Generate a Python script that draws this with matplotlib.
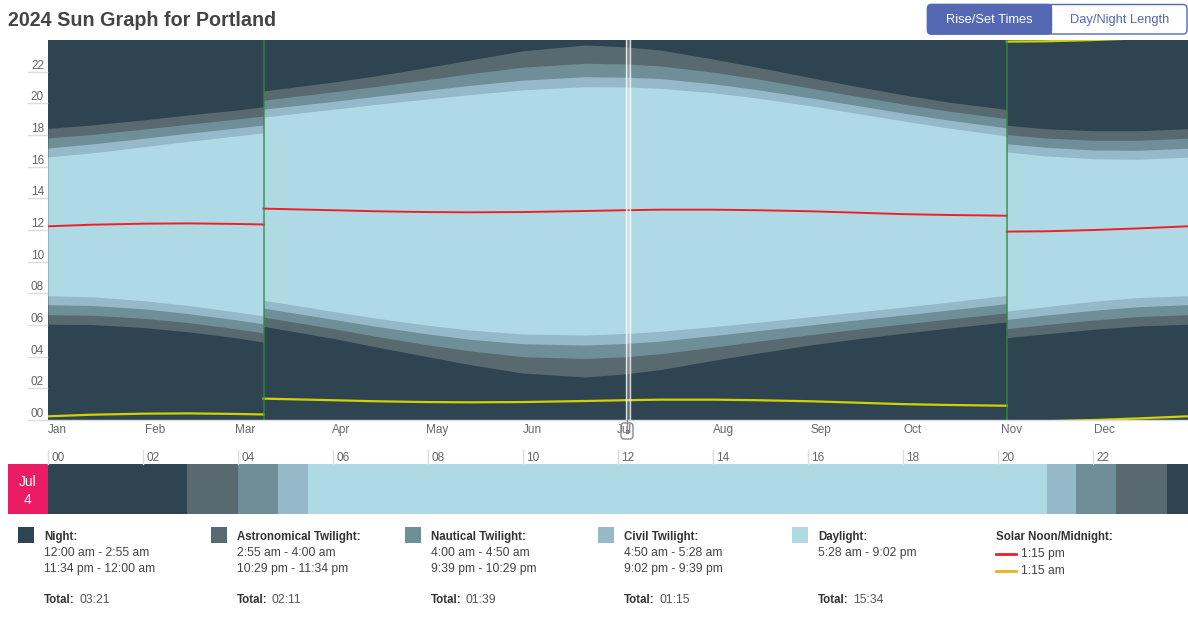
import matplotlib
matplotlib.use('Agg')
import matplotlib.pyplot as plt
from matplotlib.patches import Rectangle, FancyBboxPatch

plt.rcParams['font.family'] = ['Liberation Sans', 'DejaVu Sans']

W, H = 1188, 624

# day of year (Jan 1 = 0). a repeated day marks a daylight saving switch
days = [0, 14, 31, 45, 60, 69, 69, 91, 105, 121, 135, 152, 172, 185, 196,
        213, 227, 244, 258, 274, 288, 307, 307, 319, 335, 349, 365]

astro_start = ['6:03', '6:02', '5:50', '5:34', '5:12', '4:55', '5:55', '5:10', '4:37', '4:01',
               '3:30', '2:58', '2:43', '2:55', '3:11', '3:46', '4:13', '4:44', '5:06', '5:29',
               '5:48', '6:12', '5:12', '5:26', '5:44', '5:56', '6:03']
naut_start = ['6:39', '6:37', '6:25', '6:09', '5:46', '5:30', '6:30', '5:47', '5:17', '4:46',
              '4:22', '4:00', '3:53', '4:00', '4:11', '4:36', '4:58', '5:23', '5:43', '6:04',
              '6:22', '6:46', '5:46', '6:01', '6:19', '6:32', '6:39']
civil_start = ['7:17', '7:14', '7:01', '6:43', '6:20', '6:04', '7:04', '6:22', '5:55', '5:27',
               '5:06', '4:49', '4:44', '4:50', '4:59', '5:20', '5:38', '6:00', '6:18', '6:38',
               '6:56', '7:21', '6:21', '6:37', '6:56', '7:09', '7:17']
sunrise = ['7:51', '7:47', '7:32', '7:14', '6:50', '6:34', '7:34', '6:52', '6:26', '6:00',
           '5:41', '5:26', '5:22', '5:28', '5:36', '5:54', '6:10', '6:31', '6:48', '7:08',
           '7:26', '7:53', '6:53', '7:09', '7:30', '7:44', '7:51']
solar_noon = ['12:14', '12:20', '12:24', '12:25', '12:23', '12:21', '13:21', '13:15', '13:11', '13:08',
              '13:07', '13:08', '13:12', '13:15', '13:17', '13:17', '13:15', '13:11', '13:06', '13:00',
              '12:57', '12:54', '11:54', '11:55', '12:00', '12:06', '12:14']
sunset = ['16:37', '16:52', '17:16', '17:36', '17:56', '18:08', '19:08', '19:37', '19:56', '20:16',
          '20:33', '20:51', '21:03', '21:02', '20:57', '20:40', '20:20', '19:51', '19:24', '18:53',
          '18:27', '17:56', '16:56', '16:41', '16:30', '16:28', '16:36']
civil_end = ['17:11', '17:26', '17:48', '18:07', '18:26', '18:38', '19:38', '20:07', '20:27', '20:49',
             '21:08', '21:28', '21:41', '21:39', '21:34', '21:14', '20:52', '20:21', '19:54', '19:23',
             '18:57', '18:27', '17:27', '17:14', '17:03', '17:02', '17:10']
naut_end = ['17:49', '18:02', '18:23', '18:41', '19:00', '19:12', '20:12', '20:43', '21:04', '21:29',
            '21:52', '22:17', '22:32', '22:29', '22:22', '21:58', '21:33', '20:58', '20:29', '19:57',
            '19:31', '19:02', '18:02', '17:49', '17:40', '17:40', '17:48']
astro_end = ['18:25', '18:38', '18:58', '19:16', '19:34', '19:47', '20:47', '21:20', '21:44', '22:15',
             '22:44', '23:19', '23:41', '23:34', '23:22', '22:48', '22:17', '21:38', '21:06', '20:32',
             '20:05', '19:37', '18:37', '18:24', '18:16', '18:16', '18:24']

dst_days = [69, 307]
selected_day = 185

months = ['Jan', 'Feb', 'Mar', 'Apr', 'May', 'Jun', 'Jul', 'Aug', 'Sep', 'Oct', 'Nov', 'Dec']
month_starts = [0, 31, 60, 91, 121, 152, 182, 213, 244, 274, 305, 335]

# Jul 4 bar
jul4_edges = ['0:00', '2:55', '4:00', '4:50', '5:28', '21:02', '21:39', '22:29', '23:34', '24:00']
jul4_kinds = [0, 1, 2, 3, 4, 3, 2, 1, 0]

legend_names = ['Night:', 'Astronomical Twilight:', 'Nautical Twilight:', 'Civil Twilight:', 'Daylight:']
legend_ranges = [['12:00 am - 2:55 am', '11:34 pm - 12:00 am'],
                 ['2:55 am - 4:00 am', '10:29 pm - 11:34 pm'],
                 ['4:00 am - 4:50 am', '9:39 pm - 10:29 pm'],
                 ['4:50 am - 5:28 am', '9:02 pm - 9:39 pm'],
                 ['5:28 am - 9:02 pm']]
legend_totals = ['03:21', '02:11', '01:39', '01:15', '15:34']
noon_label = '1:15 pm'
midnight_label = '1:15 am'

band_colors = ['#2e4551', '#596970', '#6e8e98', '#95b9c8', '#b0d9e6']
red = '#ee2026'
yellow = '#d2d200'
grey_txt = '#666666'


def hrs(t):
    h, m = t.split(':')
    return int(h) + int(m) / 60


def split_segments(vals):
    segs = []
    start = 0
    for i in range(1, len(days)):
        if days[i] == days[i - 1]:
            segs.append((days[start:i], [hrs(v) for v in vals[start:i]]))
            start = i
    segs.append((days[start:], [hrs(v) for v in vals[start:]]))
    return segs


fig = plt.figure(figsize=(W / 100, H / 100), dpi=100)

# background layer in pixel coordinates
bg = fig.add_axes([0, 0, 1, 1])
bg.set_xlim(0, W)
bg.set_ylim(H, 0)
bg.axis('off')
# night underlay so the chart edge has no light seam
bg.add_patch(Rectangle((47.5, 40), 1141, 380, fc=band_colors[0], ec='none'))

# main chart
ax = fig.add_axes([48 / W, 1 - 420 / H, 1140 / W, 380 / H])
ax.set_facecolor(band_colors[0])
ax.patch.set_edgecolor('none')
ax.set_xlim(0, 365)
ax.set_ylim(0, 24)
ax.set_xticks([])
ax.set_yticks([])
for sp in ax.spines.values():
    sp.set_visible(False)

bands = [(astro_start, astro_end), (naut_start, naut_end),
         (civil_start, civil_end), (sunrise, sunset)]
for k, (lo, hi) in enumerate(bands):
    for (x, y1), (_, y2) in zip(split_segments(lo), split_segments(hi)):
        ax.fill_between(x, y1, y2, color=band_colors[k + 1], lw=0)

for x, noon in split_segments(solar_noon):
    ax.plot(x, noon, color=red, lw=1.4, zorder=5)
    ax.plot(x, [n - 12 for n in noon], color=yellow, lw=1.6, zorder=5)
    ax.plot(x, [n + 12 for n in noon], color=yellow, lw=1.6, zorder=5)

for d in dst_days:
    ax.axvline(d, color='#2f8a3f', lw=1.2, alpha=0.8, zorder=6)

ax.axvspan(selected_day, selected_day + 1.3, color='white', alpha=0.25, lw=0, zorder=7)
ax.axvline(selected_day, color='white', alpha=0.8, lw=1, zorder=7)
ax.axvline(selected_day + 1.3, color='white', alpha=0.8, lw=1, zorder=7)

ytr = ax.get_yaxis_transform()
for h in range(0, 24, 2):
    ax.plot([-20 / 1140, 1 if h == 0 else -1 / 1140], [h, h], transform=ytr, clip_on=False,
            color='#dddddd', lw=1, zorder=0 if h else 8)
    ax.text(-4 / 1140, h + 0.19, '%02d' % h, transform=ytr, ha='right', va='baseline',
            fontsize=8.5, color=grey_txt)

for m, d in zip(months, month_starts):
    ax.text(d, -0.63, m, ha='left', va='center', fontsize=8.5, color=grey_txt)

# Jul 4 bar
ax2 = fig.add_axes([48 / W, 1 - 514 / H, 1140 / W, 50 / H])
ax2.set_xlim(0, 24)
ax2.set_ylim(0, 1)
ax2.set_xticks([])
ax2.set_yticks([])
for sp in ax2.spines.values():
    sp.set_visible(False)
edges = [hrs(e) for e in jul4_edges]
for i, kind in enumerate(jul4_kinds):
    ax2.barh(0.5, edges[i + 1] - edges[i], left=edges[i], height=1,
             color=band_colors[kind], lw=0)
for h in range(0, 24, 2):
    ax2.plot([h, h], [1, 1.28], clip_on=False, color='#dddddd', lw=1)
    ax2.text(h + 0.07, 1.12, '%02d' % h, ha='left', va='center', fontsize=8.5, color=grey_txt)

bg.add_patch(Rectangle((8, 464), 40, 50, fc='#ec1c64', ec='none'))
bg.text(28, 482, 'Jul', ha='center', va='center', color='white', fontsize=10)
bg.text(28, 500, '4', ha='center', va='center', color='white', fontsize=10)

# title and buttons
bg.text(8, 26, '2024 Sun Graph for Portland', fontsize=14.2, weight='bold',
        color='#444444', va='baseline')
blue = '#5468b4'
bg.add_patch(FancyBboxPatch((927.5, 4.5), 259.5, 29.5, boxstyle='round,pad=0,rounding_size=4',
                            fc='white', ec=blue, lw=1))
bg.add_patch(FancyBboxPatch((927.5, 4.5), 124, 29.5, boxstyle='round,pad=0,rounding_size=4',
                            fc=blue, ec=blue, lw=1))
bg.add_patch(Rectangle((1040, 4.5), 11.5, 29.5, fc=blue, ec='none'))
bg.text(989, 20, 'Rise/Set Times', ha='center', va='center', color='white', fontsize=9.3)
bg.text(1120, 20, 'Day/Night Length', ha='center', va='center', color=blue, fontsize=9.3)

# legend
col_sq = [18, 211, 405, 598, 792]
col_tx = [44, 237, 431, 624, 818]
for i in range(5):
    bg.add_patch(Rectangle((col_sq[i], 527), 16, 16, fc=band_colors[i], ec='none'))
    bg.text(col_tx[i], 537, legend_names[i], weight='bold', fontsize=8.3,
            va='center', color='#333333')
    for j, r in enumerate(legend_ranges[i]):
        bg.text(col_tx[i], 553 + 16 * j, r, fontsize=8.7, va='center', color='#444444')
    bg.text(col_tx[i], 600, 'Total:', weight='bold', fontsize=8.3, va='center', color='#333333')
    bg.text(col_tx[i] + 35, 600, legend_totals[i], fontsize=8.7, va='center', color='#555555')

bg.text(996, 537, 'Solar Noon/Midnight:', weight='bold', fontsize=8.3, va='center', color='#333333')
bg.plot([996, 1016], [554, 554], color=red, lw=2)
bg.plot([996, 1016], [571, 571], color='#e6b422', lw=2)
bg.text(1021, 554, noon_label, fontsize=8.7, va='center', color='#444444')
bg.text(1021, 571, midnight_label, fontsize=8.7, va='center', color='#444444')

# handle of the day cursor (outline only, month label shows through)
top = fig.add_axes([0, 0, 1, 1])
top.set_xlim(0, W)
top.set_ylim(H, 0)
top.axis('off')
top.add_patch(FancyBboxPatch((621, 423), 12, 16, boxstyle='round,pad=0,rounding_size=3',
                             fc='none', ec='#888888', lw=1))
top.plot([627, 627], [420, 432], color='#888888', lw=1)
top.add_patch(Rectangle((625.5, 430), 3, 4, fc='#777777', ec='none'))

fig.savefig('out.png', dpi=100)
